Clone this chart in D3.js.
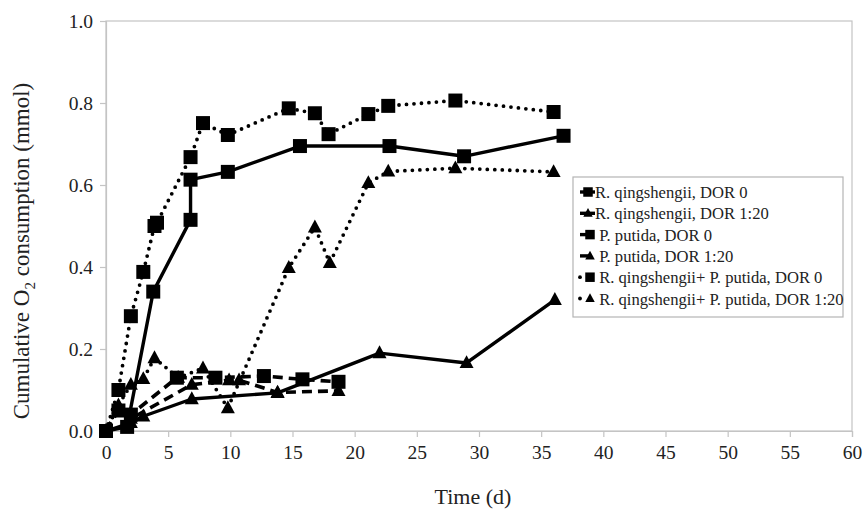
<!DOCTYPE html>
<html>
<head>
<meta charset="utf-8">
<script src="https://cdn.jsdelivr.net/npm/d3@7/dist/d3.min.js"></script>
<style>
  body { margin: 0; background: #fff; }
  text { font-family: "Liberation Serif", "Times New Roman", serif; fill: #222; }
</style>
</head>
<body>
<svg id="chart" width="864" height="516"></svg>
<script>
// data: [time (d), cumulative O2 (mmol)]
var rqDor0 = [[0, 0], [1.7, 0.01], [3.8, 0.34], [6.8, 0.515], [6.8, 0.613], [9.8, 0.632],
  [15.6, 0.695], [22.8, 0.695], [28.8, 0.67], [36.8, 0.72]];
var rqDor120 = [[0, 0], [2, 0.02], [3, 0.036], [6.9, 0.078], [13.8, 0.093], [22, 0.19],
  [29, 0.166], [36.1, 0.32]];
var ppDor0 = [[0, 0], [1, 0.05], [2, 0.04], [5.7, 0.13], [8.8, 0.13], [12.7, 0.134],
  [15.8, 0.126], [18.7, 0.12]];
var ppDor120 = [[0, 0], [1, 0.055], [2, 0.03], [6.9, 0.113], [9.9, 0.124], [10.7, 0.124],
  [13.8, 0.094], [18.7, 0.098]];
var mixDor0 = [[0, 0], [1, 0.1], [2, 0.28], [3, 0.388], [3.9, 0.5], [4.1, 0.508], [6.8, 0.668],
  [7.8, 0.751], [9.8, 0.722], [14.7, 0.787], [16.8, 0.775], [17.9, 0.724], [21.1, 0.773],
  [22.7, 0.793], [28.1, 0.806], [36, 0.778]];
var mixDor120 = [[0, 0], [1, 0.063], [2, 0.113], [3, 0.127], [3.9, 0.178], [5.8, 0.13],
  [7.8, 0.153], [9.8, 0.056], [14.7, 0.398], [16.8, 0.497], [18, 0.41], [21.1, 0.605],
  [22.7, 0.633], [28.1, 0.641], [36, 0.632]];

var seriesNames = ["R. qingshengii, DOR 0", "R. qingshengii, DOR 1:20", " P. putida, DOR 0",
  " P. putida, DOR 1:20", " R. qingshengii+ P. putida, DOR 0", " R. qingshengii+ P. putida, DOR 1:20"];
var xTicks = d3.range(0, 61, 5);
var yTicks = [0, 0.2, 0.4, 0.6, 0.8, 1.0];

var series = [
  { name: seriesNames[0], values: rqDor0, marker: "square", dash: null },
  { name: seriesNames[1], values: rqDor120, marker: "triangle", dash: null },
  { name: seriesNames[2], values: ppDor0, marker: "square", dash: "10,6" },
  { name: seriesNames[3], values: ppDor120, marker: "triangle", dash: "10,6" },
  { name: seriesNames[4], values: mixDor0, marker: "square", dash: "dot" },
  { name: seriesNames[5], values: mixDor120, marker: "triangle", dash: "dot" }
];

var svg = d3.select("#chart");
var margin = { left: 106, right: 12, top: 21, bottom: 85 };
var width = 864 - margin.left - margin.right,
  height = 516 - margin.top - margin.bottom;

var x = d3.scaleLinear().domain([0, 60]).range([0, width]);
var y = d3.scaleLinear().domain([0, 1]).range([height, 0]);

var g = svg.append("g").attr("transform", "translate(" + margin.left + "," + margin.top + ")");

// plot area border
g.append("rect")
  .attr("width", width)
  .attr("height", height)
  .attr("fill", "none")
  .attr("stroke", "#c4c4c4")
  .attr("stroke-width", 1.2);

var xAxis = g.append("g")
  .attr("transform", "translate(0," + height + ")")
  .call(d3.axisBottom(x).tickValues(xTicks).tickSize(6).tickPadding(8).tickFormat(d3.format("d")));
var yAxis = g.append("g")
  .call(d3.axisLeft(y).tickValues(yTicks).tickSize(6).tickPadding(7).tickFormat(d3.format(".1f")));

[xAxis, yAxis].forEach(function (ax) {
  ax.attr("font-family", "Liberation Serif");
  ax.select(".domain").attr("stroke", "#c4c4c4").attr("stroke-width", 1.2);
  ax.selectAll(".tick line").attr("stroke", "#c4c4c4").attr("stroke-width", 1.2);
  ax.selectAll(".tick text")
    .attr("font-size", 19.5)
    .attr("fill", "#222");
});

// axis titles
svg.append("text")
  .attr("x", margin.left + x(30) - 6)
  .attr("y", 504)
  .attr("text-anchor", "middle")
  .attr("font-size", 22)
  .text("Time (d)");

var yTitle = svg.append("text")
  .attr("transform", "translate(29,251) rotate(-90)")
  .attr("text-anchor", "middle")
  .attr("font-size", 23);
yTitle.append("tspan").text("Cumulative O");
yTitle.append("tspan").attr("font-size", 15).attr("dy", 6).text("2");
yTitle.append("tspan").attr("dy", -6).text(" consumption (mmol)");

function styleLine(sel, dash) {
  sel.attr("fill", "none").attr("stroke", "#000");
  if (dash === "dot") {
    sel.attr("stroke-width", 3.8).attr("stroke-dasharray", "0,7.5").attr("stroke-linecap", "round");
  } else if (dash) {
    sel.attr("stroke-width", 3.6).attr("stroke-dasharray", dash);
  } else {
    sel.attr("stroke-width", 3.4).attr("stroke-linejoin", "round");
  }
}

function markerPath(type, s) {
  if (type === "square") {
    return "M" + (-s / 2) + "," + (-s / 2) + "h" + s + "v" + s + "h" + (-s) + "Z";
  }
  var h = s * 0.92;
  return "M0," + (-h * 0.6) + "L" + (s / 2) + "," + (h * 0.4) + "L" + (-s / 2) + "," + (h * 0.4) + "Z";
}

var line = d3.line()
  .x(function (d) { return x(d[0]); })
  .y(function (d) { return y(d[1]); });

series.forEach(function (s) {
  var sg = g.append("g");
  sg.append("path").attr("d", line(s.values)).call(styleLine, s.dash);
  sg.selectAll("path.mk")
    .data(s.values)
    .enter()
    .append("path")
    .attr("class", "mk")
    .attr("transform", function (d) { return "translate(" + x(d[0]) + "," + y(d[1]) + ")"; })
    .attr("d", markerPath(s.marker, 14))
    .attr("fill", "#000");
});

// legend
var lg = svg.append("g").attr("transform", "translate(573,177)");
lg.append("rect")
  .attr("width", 270)
  .attr("height", 140)
  .attr("fill", "#fff")
  .attr("stroke", "#b4b4b4")
  .attr("stroke-width", 1.2);

series.forEach(function (s, i) {
  var row = lg.append("g").attr("transform", "translate(0," + (15 + i * 21.3) + ")");
  var l = row.append("line").attr("x1", 7).attr("x2", 22).attr("y1", 0).attr("y2", 0);
  styleLine(l, s.dash === "dot" ? "dot" : null);
  if (s.dash === "dot") l.attr("x2", 12);
  if (s.dash && s.dash !== "dot") l.attr("x2", 16);
  row.append("path")
    .attr("transform", "translate(" + (s.dash ? 17 : 15) + ",0)")
    .attr("d", markerPath(s.marker, 9.5))
    .attr("fill", "#000");
  row.append("text")
    .attr("x", 22)
    .attr("y", 6)
    .attr("font-size", 16.6)
    .style("white-space", "pre")
    .text(s.name);
});
</script>
</body>
</html>
